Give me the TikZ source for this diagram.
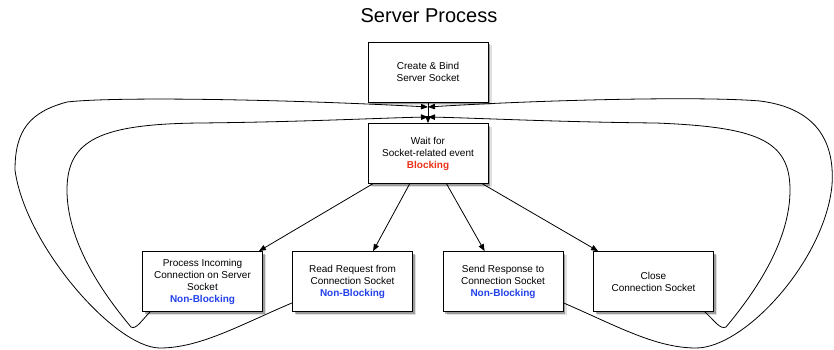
\documentclass[tikz,border=0pt]{standalone}
\usepackage{fontspec}
\setmainfont{Liberation Sans}
\usetikzlibrary{arrows.meta,shadows,calc}
\definecolor{nbblue}{RGB}{35,65,235}
\definecolor{bred}{RGB}{235,50,25}
\begin{document}
\begin{tikzpicture}[x=1pt,y=-1pt,
  box/.style={draw=black, line width=0.8pt, fill=white,
    minimum width=120pt, minimum height=60pt, inner sep=0pt,
    align=center, font=\fontsize{10}{12}\selectfont,
    drop shadow={shadow xshift=3.5pt,shadow yshift=-3.5pt,fill=black,opacity=0.12},
    drop shadow={shadow xshift=2pt,shadow yshift=-2pt,fill=black,opacity=0.3}},
  conn/.style={line width=0.8pt, -{Triangle[length=7pt,width=5.5pt]}},
  loopc/.style={line width=0.8pt, -{Triangle[length=7pt,width=5.5pt]}},
  nb/.style={text=nbblue, font=\bfseries},
]
\useasboundingbox (0,0) rectangle (834,350);

\node[font=\fontsize{20}{24}\selectfont, anchor=base] (title) at (429,23) {Server Process};

\node[box] (cb) at (428,72) {Create \& Bind\\Server Socket};
\node[box] (w) at (428,153.5) {Wait for\\Socket-related event\\{\color{bred}\bfseries Blocking}};
\node[box] (pi) at (202.5,281.5) {Process Incoming\\Connection on Server\\Socket\\{\color{nbblue}\bfseries Non-Blocking}};
\node[box] (rr) at (352.5,281.5) {Read Request from\\Connection Socket\\{\color{nbblue}\bfseries Non-Blocking}};
\node[box] (sr) at (503,281.5) {Send Response to\\Connection Socket\\{\color{nbblue}\bfseries Non-Blocking}};
\node[box] (cl) at (653.5,281.5) {Close\\Connection Socket};

% join points on the vertical connector
\coordinate (jt) at (428,107);
\coordinate (jb) at (428,117);

\draw[conn] (cb.south) -- (w.north);

\draw[conn] ($(w.south west)+(5,0)$) -- ($(pi.north east)+(-4,0)$);
\draw[conn] ($(w.south west)+(42,0)$) -- ($(rr.north west)+(81,0)$);
\draw[conn] ($(w.south west)+(79,0)$) -- ($(sr.north west)+(42,0)$);
\draw[conn] ($(w.south west)+(115,0)$) -- ($(cl.north west)+(5,0)$);

% inner left loop
\draw[loopc] ($(pi.south west)+(8,0)$) .. controls (142,320) and (136,330) .. (131,327)
  .. controls (100,290) and (67,240) .. (67,190)
  .. controls (67,140) and (100,124) .. (200,123)
  .. controls (300,122) and (380,118) .. (jb);
% outer left loop
\draw[loopc] ($(rr.south west)+(0,-9)$) .. controls (240,325) and (200,348) .. (160,348)
  .. controls (115,348) and (25,245) .. (15,170)
  .. controls (15,130) and (30,112) .. (67,102)
  .. controls (120,96) and (300,100) .. (jt);
% inner right loop
\draw[loopc] ($(cl.south east)+(-9,0)$) .. controls (714,320) and (720,330) .. (726,327)
  .. controls (757,290) and (790,240) .. (790,190)
  .. controls (790,140) and (757,127) .. (656,123)
  .. controls (556,122) and (476,118) .. (jb);
% outer right loop
\draw[loopc] ($(sr.south east)+(0,-9)$) .. controls (615,325) and (655,348) .. (696,348)
  .. controls (745,348) and (825,260) .. (832,185)
  .. controls (835,140) and (815,108) .. (760,101)
  .. controls (700,96) and (540,100) .. (jt);
\end{tikzpicture}
\end{document}
